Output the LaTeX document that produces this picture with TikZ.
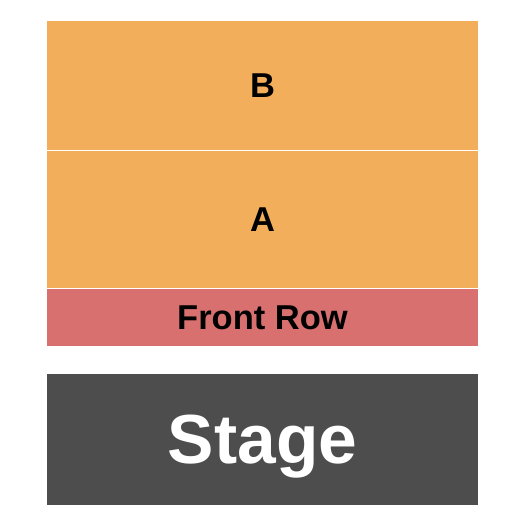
\documentclass[tikz,border=0pt]{standalone}
\usepackage{fontspec}
\setmainfont{Liberation Sans}
\definecolor{seatorange}{HTML}{F2AE5B}
\definecolor{seatred}{HTML}{D87070}
\definecolor{stagegrey}{HTML}{4D4D4D}
\begin{document}
\begin{tikzpicture}[x=1pt,y=-1pt,
    section/.style={rectangle,inner sep=0pt,minimum width=431pt,text depth=0pt,
      font=\bfseries\fontsize{34.5}{34.5}\selectfont},
    stagebox/.style={section,fill=stagegrey,text=white,
      font=\bfseries\fontsize{69.5}{69.5}\selectfont},
    gap/.style={draw=white,line width=1pt}]
  \useasboundingbox (0,0) rectangle (525,525);
  \node[section,fill=seatorange,minimum height=129.3pt] (secB) at (262.5,85.65) {B};
  \node[section,fill=seatorange,minimum height=138pt] (secA) at (262.5,219.3) {A};
  \node[section,fill=seatred,minimum height=57.7pt] (front) at (262.5,317.15) {Front Row};
  \node[stagebox,minimum height=131pt] (stage) at (262.5,439.5) {Stage};
  \draw[gap] (secB.south west) -- (secB.south east);
  \draw[gap] (secA.south west) -- (secA.south east);
\end{tikzpicture}
\end{document}
